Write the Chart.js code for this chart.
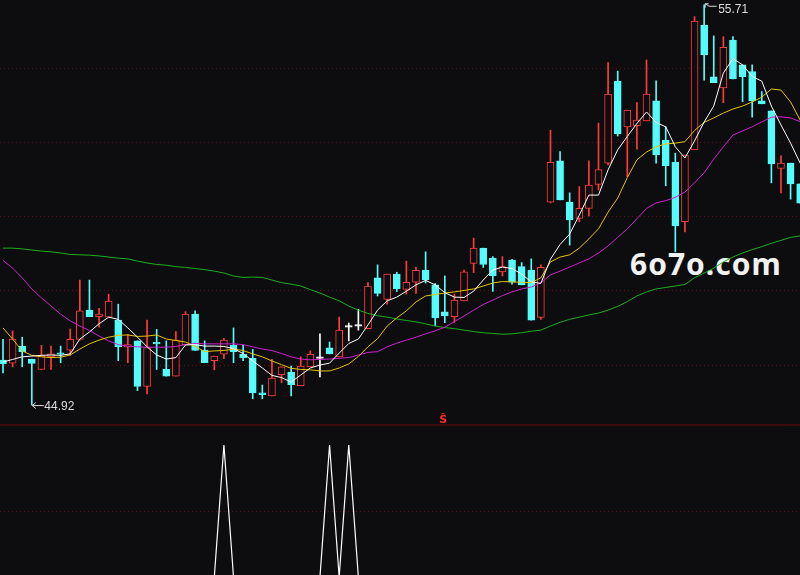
<!DOCTYPE html>
<html><head><meta charset="utf-8">
<script src="https://cdn.jsdelivr.net/npm/chart.js@4.4.1/dist/chart.umd.min.js"></script>
<style>
html,body{margin:0;padding:0;background:#0d0d10;}
#wrap{position:relative;width:800px;height:575px;overflow:hidden;background:#0d0d10;}
#c{position:absolute;left:0;top:0;z-index:2;}
.lbl{position:absolute;z-index:3;font:12px "Liberation Sans",Arial,sans-serif;color:#dcdcdc;white-space:nowrap;line-height:1;}
#wm{position:absolute;z-index:1;left:630px;top:249px;font:bold 30px "Noto Sans",sans-serif;color:#f2f2f2;letter-spacing:1px;white-space:nowrap;line-height:1;}
#sig{position:absolute;z-index:3;font:bold 11px "DejaVu Sans",sans-serif;color:#ff2a2a;line-height:1;white-space:nowrap;}
</style></head><body>
<div id="wrap">
<div id="wm">6o7o.com</div>
<canvas id="c" width="800" height="575"></canvas>
<span id="hiLbl" class="lbl"></span>
<span id="loLbl" class="lbl"></span>
<span id="sig">Ŝ</span>
</div>
<script>
const opens=[46.13,46.05,46.51,46.16,45.88,46.22,46.32,46.40,46.69,47.48,47.30,47.29,47.21,46.48,46.65,45.42,46.61,45.89,45.70,46.55,47.37,46.40,46.12,46.29,46.53,46.29,46.18,45.25,45.17,45.74,45.81,45.44,45.95,46.18,46.46,46.22,47.02,47.05,46.98,48.35,47.77,48.45,48.04,48.23,48.56,48.16,47.43,47.30,47.73,48.74,49.15,48.88,48.51,48.83,48.65,48.56,47.28,50.39,51.50,50.39,49.95,50.22,50.87,51.44,53.65,52.42,52.45,52.58,53.12,52.06,51.46,49.86,51.80,55.16,53.77,53.47,54.76,54.09,53.91,53.12,52.85,51.30,51.44,50.88];
const highs=[46.69,46.92,46.75,46.16,46.53,46.51,46.51,46.97,48.29,48.29,47.53,47.91,47.64,46.83,46.65,47.21,46.96,46.65,46.90,47.44,47.46,46.65,46.24,46.72,47.00,46.53,46.42,45.46,46.15,45.95,45.97,46.22,46.38,46.84,46.62,47.29,47.13,47.50,48.22,48.70,48.45,48.50,48.80,48.63,49.05,48.20,48.40,47.91,48.56,49.42,49.15,48.92,48.92,48.85,48.76,48.86,48.70,52.33,51.75,50.64,50.81,51.50,52.52,54.15,53.92,52.87,53.07,54.22,53.66,52.42,51.71,51.66,55.39,55.71,54.87,54.85,54.85,54.09,54.09,53.37,52.85,51.64,51.44,50.88];
const lows=[45.79,45.95,45.95,44.92,45.88,45.88,46.06,46.26,46.67,47.30,47.02,47.29,46.12,46.06,45.31,45.22,45.88,45.70,45.70,46.55,46.39,46.06,45.87,46.17,46.06,46.12,45.09,45.09,45.17,45.52,45.17,45.44,45.95,45.68,46.30,46.22,46.65,46.94,46.98,47.86,47.64,47.98,47.91,47.93,48.21,47.06,47.14,47.15,47.73,48.49,48.63,47.98,48.40,48.18,48.16,47.21,47.23,50.37,50.45,49.23,49.86,50.02,50.72,51.39,52.17,51.08,51.82,52.58,51.44,50.83,49.05,49.59,51.80,53.68,53.61,53.07,53.71,53.10,52.68,53.04,50.91,50.64,50.47,50.36];
const closes=[46.03,46.70,46.36,46.04,46.25,46.30,46.29,46.69,47.46,47.30,47.37,47.72,46.49,46.55,45.42,46.47,46.57,45.70,46.67,47.37,46.39,46.06,46.24,46.67,46.36,46.20,45.25,45.20,45.65,45.95,45.47,45.97,46.29,46.18,46.30,46.94,47.02,47.05,48.13,47.93,48.45,48.05,48.23,48.55,48.29,47.27,47.32,47.75,48.51,49.15,48.71,48.41,48.65,48.23,48.16,47.21,48.63,51.46,50.45,49.91,50.22,50.85,51.27,53.30,52.23,52.87,52.60,53.30,51.66,51.37,49.75,51.66,55.27,54.36,53.61,54.56,53.71,53.77,53.12,53.04,51.42,51.44,50.88,50.36];
const ma5=[46.08,46.15,46.22,46.24,46.26,46.27,46.26,46.30,46.70,46.89,47.11,47.29,47.23,47.00,46.75,46.49,46.27,46.16,46.20,46.54,46.55,46.51,46.51,46.50,46.44,46.31,46.11,45.92,45.72,45.66,45.54,45.73,45.92,46.00,46.05,46.32,46.58,46.70,47.08,47.48,47.73,47.83,47.99,48.16,48.28,48.16,47.95,47.83,47.82,47.99,48.29,48.56,48.64,48.60,48.45,48.24,48.20,48.85,49.25,49.53,50.04,50.58,50.58,51.26,51.80,52.16,52.51,52.82,52.54,52.42,51.88,51.58,52.04,52.55,52.98,53.87,54.26,54.09,53.78,53.65,52.98,52.47,51.98,51.44];
const ma10=[47.00,46.70,46.38,46.26,46.22,46.20,46.21,46.27,46.43,46.57,46.67,46.75,46.80,46.81,46.77,46.78,46.81,46.70,46.66,46.62,46.50,46.36,46.38,46.39,46.43,46.39,46.30,46.22,46.11,46.01,45.91,45.88,45.87,45.84,45.84,45.92,46.03,46.23,46.49,46.71,47.05,47.27,47.46,47.70,47.86,47.90,47.94,47.97,48.01,48.05,48.13,48.21,48.25,48.24,48.23,48.22,48.35,48.78,48.91,48.97,49.15,49.40,49.67,50.12,50.50,51.05,51.53,51.74,51.88,51.96,51.98,52.02,52.32,52.54,52.66,52.79,52.90,52.98,53.09,53.22,53.44,53.41,53.09,52.60];
const ma20=[48.82,48.61,48.35,48.05,47.81,47.59,47.37,47.19,47.05,46.93,46.78,46.65,46.55,46.51,46.49,46.48,46.48,46.48,46.50,46.55,46.58,46.57,46.57,46.57,46.57,46.55,46.49,46.43,46.39,46.31,46.22,46.16,46.14,46.15,46.16,46.18,46.20,46.27,46.34,46.36,46.49,46.59,46.67,46.75,46.84,46.92,47.02,47.17,47.32,47.48,47.63,47.75,47.87,47.97,48.05,48.10,48.21,48.43,48.53,48.64,48.75,48.86,49.02,49.21,49.44,49.67,49.94,50.22,50.37,50.43,50.52,50.66,50.91,51.18,51.55,51.88,52.20,52.31,52.42,52.55,52.68,52.69,52.66,52.56];
const ma60=[49.15,49.15,49.13,49.10,49.07,49.05,49.02,48.98,48.97,48.96,48.94,48.91,48.88,48.86,48.80,48.75,48.71,48.69,48.65,48.63,48.60,48.57,48.53,48.48,48.40,48.36,48.37,48.36,48.29,48.22,48.18,48.13,48.03,47.94,47.83,47.73,47.59,47.48,47.39,47.33,47.29,47.24,47.20,47.16,47.11,47.05,47.01,46.98,46.94,46.90,46.87,46.85,46.83,46.84,46.87,46.91,46.94,47.05,47.15,47.23,47.29,47.35,47.40,47.48,47.58,47.71,47.86,47.97,48.05,48.09,48.13,48.17,48.35,48.48,48.61,48.78,48.91,49.02,49.11,49.19,49.28,49.36,49.44,49.48];
const signal=[0,0,0,0,0,0,0,0,0,0, 0,0,0,0,0,0,0,0,0,0, 0,0,0,1,0,0,0,0,0,0, 0,0,0,0,1,0,1,0,0,0, 0,0,0,0,0,0,0,0,0,0, 0,0,0,0,0,0,0,0,0,0, 0,0,0,0,0,0,0,0,0,0, 0,0,0,0,0,0,0,0,0,0, 0,0,0,0];
const priceGrid=[46,48,50,52,54];
const signalGrid=[0.5];
const panelDivider=[1.1515];
const markIdx=[46];

const BG='#0d0d10', UP='#ff3c3c', DOWN='#54fcfc', DOJI='#ffffff';
const kind=i=>closes[i]>opens[i]?'up':(closes[i]<opens[i]?'down':'doji');
const col=i=>({up:UP,down:DOWN,doji:DOJI})[kind(i)];
const idx=closes.map((_,i)=>i);

const wicks=idx.map(i=>({x:i,y:[lows[i],highs[i]]}));
const bodies=idx.map(i=>({x:i,y:[Math.min(opens[i],closes[i]),Math.max(opens[i],closes[i])]}));
const pts=a=>a.map((v,i)=>({x:i,y:v}));

const labelPlugin={
  id:'hl',
  afterDraw(chart){
    const xs=chart.scales.x, ys=chart.scales.y, y2=chart.scales.y2, ctx=chart.ctx;
    let hi=0, lo=0;
    highs.forEach((v,i)=>{if(v>highs[hi])hi=i;});
    lows.forEach((v,i)=>{if(v<lows[lo])lo=i;});
    const hx=xs.getPixelForValue(hi), hy=ys.getPixelForValue(highs[hi]);
    const lx=xs.getPixelForValue(lo), ly=ys.getPixelForValue(lows[lo]);
    ctx.save();
    ctx.strokeStyle='#dcdcdc'; ctx.lineWidth=1;
    ctx.beginPath();
    ctx.moveTo(lx+0.5,ly+0.5); ctx.lineTo(lx+12,ly+0.5);
    ctx.moveTo(lx+4,ly-2.5); ctx.lineTo(lx+0.5,ly+0.5); ctx.lineTo(lx+4,ly+3.5);
    ctx.stroke();
    ctx.beginPath();
    ctx.moveTo(hx+1,hy+3); ctx.lineTo(hx+1,hy-1); ctx.lineTo(hx+4.5,hy-1);
    ctx.moveTo(hx+1,hy-1); ctx.lineTo(hx+5,hy+1.5); ctx.lineTo(hx+12.5,hy+1.5);
    ctx.stroke();
    ctx.restore();
    const H=document.getElementById('hiLbl'), L=document.getElementById('loLbl'), S=document.getElementById('sig');
    H.textContent=highs[hi].toFixed(2); H.style.left=(hx+14)+'px'; H.style.top=(hy-1.4)+'px';
    L.textContent=lows[lo].toFixed(2); L.style.left=(lx+12.5)+'px'; L.style.top=(ly-5)+'px';
    const dy=y2.getPixelForValue(panelDivider[0]);
    S.style.left=(xs.getPixelForValue(markIdx[0])-5.5)+'px'; S.style.top=(dy-10.5)+'px';
  }
};

new Chart(document.getElementById('c'),{
  type:'line',
  data:{datasets:[
    {type:'bar',label:'wick',data:wicks,backgroundColor:idx.map(col),borderWidth:0,barThickness:1,grouped:false,order:20,yAxisID:'y'},
    {type:'bar',label:'body',data:bodies,backgroundColor:idx.map(i=>kind(i)==='up'?BG:col(i)),borderColor:idx.map(col),borderWidth:1,borderSkipped:false,barThickness:7,minBarLength:1.5,grouped:false,order:19,yAxisID:'y'},
    {label:'MA60',data:pts(ma60),borderColor:'#1fae1f',borderWidth:1,pointRadius:0,tension:0,order:5,yAxisID:'y'},
    {label:'MA20',data:pts(ma20),borderColor:'#d020d0',borderWidth:1,pointRadius:0,tension:0,order:4,yAxisID:'y'},
    {label:'MA10',data:pts(ma10),borderColor:'#e6c400',borderWidth:1,pointRadius:0,tension:0,order:3,yAxisID:'y'},
    {label:'MA5',data:pts(ma5),borderColor:'#ffffff',borderWidth:1,pointRadius:0,tension:0,order:2,yAxisID:'y'},
    {label:'signal',data:pts(signal),borderColor:'#ffffff',borderWidth:1.2,pointRadius:0,tension:0,order:1,yAxisID:'y2'},
    {label:'divider',data:[{x:-1,y:panelDivider[0]},{x:84,y:panelDivider[0]}],borderColor:'#6e0b0b',borderWidth:1,pointRadius:0,order:30,yAxisID:'y2'}
  ]},
  options:{
    responsive:false,animation:false,events:[],
    layout:{padding:0},
    plugins:{legend:{display:false},tooltip:{enabled:false}},
    scales:{
      x:{type:'linear',min:-0.312,max:82.98,offset:false,display:false},
      y:{type:'linear',position:'left',min:40.34,max:55.838,beginAtZero:false,
         afterBuildTicks:s=>{s.ticks=priceGrid.map(v=>({value:v}));},
         ticks:{display:false},grid:{color:'#5c1212',lineWidth:1,drawTicks:false},border:{display:false,dash:[1,3]}},
      y2:{type:'linear',position:'right',min:0.0152,max:4.371,
         afterBuildTicks:s=>{s.ticks=signalGrid.map(v=>({value:v}));},
         ticks:{display:false},grid:{color:'#5c1212',lineWidth:1,drawTicks:false},border:{display:false,dash:[1,3]}}
    }
  },
  plugins:[labelPlugin]
});
</script>
</body></html>
